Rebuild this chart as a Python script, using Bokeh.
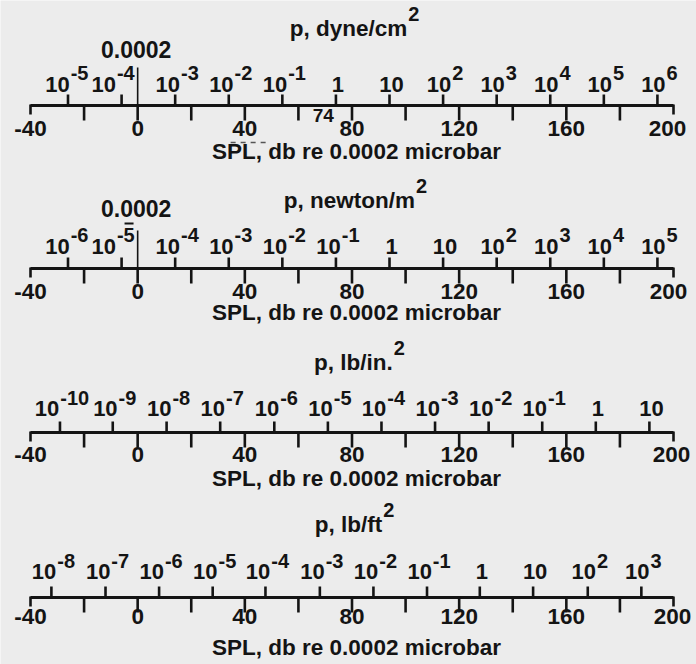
from bokeh.plotting import figure
from bokeh.models import Range1d, ColumnDataSource
from bokeh.core.properties import value
from bokeh.embed import file_html
from bokeh.resources import INLINE

# ---------------- data ----------------
SPL_TICKS = [-40, -20, 0, 20, 40, 60, 80, 100, 120, 140, 160, 180, 200]
SPL_LABELS = ["-40", "", "0", "", "40", "", "80", "", "120", "", "160", "", "200"]
SPL_TITLE = "SPL, db re 0.0002 microbar"

DYNE_TITLE = ["p, dyne/cm", "2"]
DYNE_DB = [-26, -6, 14, 34, 54, 74, 94, 114, 134, 154, 174, 194]
DYNE_BASE = ["10", "10", "10", "10", "10", "1", "10", "10", "10", "10", "10", "10"]
DYNE_EXP = ["-5", "-4", "-3", "-2", "-1", "", "", "2", "3", "4", "5", "6"]

NEWTON_TITLE = ["p, newton/m", "2"]
NEWTON_DB = [-26, -6, 14, 34, 54, 74, 94, 114, 134, 154, 174, 194]
NEWTON_BASE = ["10", "10", "10", "10", "10", "10", "1", "10", "10", "10", "10", "10"]
NEWTON_EXP = ["-6", "-5", "-4", "-3", "-2", "-1", "", "", "2", "3", "4", "5"]

LBIN_TITLE = ["p, lb/in.", "2"]
LBIN_DB = [-29, -9.3, 10.8, 30.8, 51, 71, 91, 111, 131, 151, 171, 191]
LBIN_BASE = ["10", "10", "10", "10", "10", "10", "10", "10", "10", "10", "1", "10"]
LBIN_EXP = ["-10", "-9", "-8", "-7", "-6", "-5", "-4", "-3", "-2", "-1", "", ""]

LBFT_TITLE = ["p, lb/ft", "2"]
LBFT_DB = [-32.2, -12, 8, 28, 47.7, 68, 88, 108, 127.7, 147.6, 168, 188]
LBFT_BASE = ["10", "10", "10", "10", "10", "10", "10", "10", "1", "10", "10", "10"]
LBFT_EXP = ["-8", "-7", "-6", "-5", "-4", "-3", "-2", "-1", "", "", "2", "3"]

REF_LABEL = "0.0002"   # reference pressure marked at 0 dB on the first two scales
REF_DB = 0
MARK_74 = 74           # "74" written under the 1 dyne/cm2 tick

SCALES = [
    (DYNE_TITLE, DYNE_DB, DYNE_BASE, DYNE_EXP),
    (NEWTON_TITLE, NEWTON_DB, NEWTON_BASE, NEWTON_EXP),
    (LBIN_TITLE, LBIN_DB, LBIN_BASE, LBIN_EXP),
    (LBFT_TITLE, LBFT_DB, LBFT_BASE, LBFT_EXP),
]

# ---------------- layout (pixels from top, text baselines) ----------------
ROWS = [
    dict(L=105, title=37, base=93, exp=81, db=137, spl=160, tcx=354, zero=58, vtop=67, last=-6),
    dict(L=268, title=209, base=255, exp=243, db=300, spl=321, tcx=355, zero=217, vtop=230,
         overbar=1, last=-5),
    dict(L=432, title=371, base=417, exp=406, db=463, spl=487, tcx=359, last=-2),
    dict(L=597, title=533, base=580, exp=569, db=625, spl=656, tcx=354, last=-1),
]

W, H = 696, 664
S = 643.0 / 240.0           # px per dB
X0 = -40 - 30.0 / S
X1 = X0 + W / S

FONT = value("Liberation Sans")
WEIGHT = "bold"
INK = "#141414"
BG = "#ececec"

# approximate Liberation Sans Bold advance widths (em)
ADV = {" ": .278, ",": .278, ".": .278, "/": .278, "-": .333, "p": .611, "d": .611,
       "y": .556, "n": .611, "e": .556, "c": .556, "m": .889, "w": .778, "t": .333,
       "o": .611, "l": .278, "b": .611, "i": .278, "f": .333}
for ch in "0123456789":
    ADV[ch] = .556


def tw(s, fs):
    return sum(ADV.get(c, .6) for c in s) * fs


def px2db(px):
    return X0 + px / S


def db2px(db):
    return (db - X0) * S


def bl(y, fs):
    # compensate the renderer's baseline shift
    return y - 0.41 * fs


p = figure(width=W, height=H, x_range=Range1d(X0, X1), y_range=Range1d(H, 0),
           toolbar_location=None, output_backend="svg",
           x_axis_location=None, y_axis_location=None, min_border=0,
           outline_line_color=None, background_fill_color=BG, border_fill_color=BG)
p.grid.visible = False

BASE_FS, EXP_FS, DB_FS, SPL_FS, TITLE_FS, TEXP_FS, REF_FS = 22, 20, 22.5, 22.5, 22.5, 20, 23


def txt(x, y, t, fs, align="left", **kw):
    return p.text(x=x, y=y, text=t, text_align=align, text_baseline="alphabetic",
                  text_font=FONT, text_font_style=WEIGHT, text_font_size=f"{fs}px",
                  text_color=INK, **kw)


for (title, dbs, bases, exps), r in zip(SCALES, ROWS):
    L = r["L"]
    # main scale line
    p.segment(x0=[-40], y0=[L], x1=[200], y1=[L], line_width=2.8, line_color=INK, line_cap="butt")
    # SPL ticks (down)
    lens = [9 if t in (SPL_TICKS[0], SPL_TICKS[-1]) else 15 for t in SPL_TICKS]
    p.segment(x0=SPL_TICKS, y0=[L - 1] * len(SPL_TICKS), x1=SPL_TICKS,
              y1=[L + ln for ln in lens], line_width=2.6, line_color=INK, line_cap="butt")
    # pressure ticks (up)
    p.segment(x0=dbs, y0=[L] * len(dbs), x1=dbs, y1=[L - 11] * len(dbs),
              line_width=2.6, line_color=INK, line_cap="butt")
    # SPL labels (the last one is nudged inward as on the sheet)
    offs = [0] * (len(SPL_TICKS) - 1) + [r["last"]]
    txt(SPL_TICKS, [bl(r["db"], DB_FS)] * len(SPL_TICKS), SPL_LABELS, DB_FS, "center",
        x_offset=offs)
    txt([px2db(356)], [bl(r["spl"], SPL_FS)], [SPL_TITLE], SPL_FS, "center")

    # pressure labels: base + superscript, centred on the tick, kept clear of
    # the 0.0002 marker line and of each other
    wbs = [tw(b, BASE_FS) for b in bases]
    wes = [tw(e, EXP_FS) + 1 if e else 0 for e in exps]
    tot = [a + b for a, b in zip(wbs, wes)]
    cen = [db2px(d) + 2 for d in dbs]
    if "zero" in r:
        zx = db2px(REF_DB)
        for i in range(len(cen)):
            if cen[i] < zx and cen[i] + tot[i] / 2 > zx - 3:
                cen[i] = zx - 3 - tot[i] / 2
    for i in range(len(cen) - 2, -1, -1):
        nl = cen[i + 1] - tot[i + 1] / 2
        if cen[i] + tot[i] / 2 > nl - 3:
            cen[i] = nl - 3 - tot[i] / 2
    lefts = [c - t / 2 for c, t in zip(cen, tot)]
    bx = [px2db(lx) for lx in lefts]
    ex = [px2db(lx + wb + 1) for lx, wb in zip(lefts, wbs)]
    src = ColumnDataSource(dict(bx=bx, ex=ex, yb=[bl(r["base"], BASE_FS)] * len(dbs),
                                ye=[bl(r["exp"], EXP_FS)] * len(dbs), b=bases, e=exps))
    txt("bx", "yb", "b", BASE_FS, source=src)
    txt("ex", "ye", "e", EXP_FS, source=src)
    if "overbar" in r:
        i = r["overbar"]
        x_dig = lefts[i] + wbs[i] + 1 + tw("-", EXP_FS)
        p.segment(x0=[px2db(x_dig + 1)], y0=[r["exp"] - 20], x1=[px2db(x_dig + 10)],
                  y1=[r["exp"] - 20], line_width=1.8, line_color=INK)

    # title with superscript
    wb = tw(title[0], TITLE_FS)
    we = tw(title[1], TEXP_FS)
    left_px = r["tcx"] - (wb + we + 1) / 2
    txt([px2db(left_px)], [bl(r["title"], TITLE_FS)], [title[0]], TITLE_FS)
    txt([px2db(left_px + wb + 1)], [bl(r["title"] - 15, TEXP_FS)], [title[1]], TEXP_FS)
    # reference pressure marker
    if "zero" in r:
        p.segment(x0=[REF_DB], y0=[L], x1=[REF_DB], y1=[r["vtop"]], line_width=1.6,
                  line_color=INK)
        txt([REF_DB], [bl(r["zero"], REF_FS)], [REF_LABEL], REF_FS, "center", x_offset=-1.5)

# extra marks of the original sheet
L1 = ROWS[0]["L"]
txt([MARK_74], [bl(L1 + 18, 19)], ["74"], 19, "right", x_offset=-2)
p.segment(x0=[34.7], y0=[L1 + 37], x1=[48.5], y1=[L1 + 37], line_width=1.4,
          line_color="#555555", line_dash="5 5")

open("out.html", "w").write(file_html(p, INLINE))
